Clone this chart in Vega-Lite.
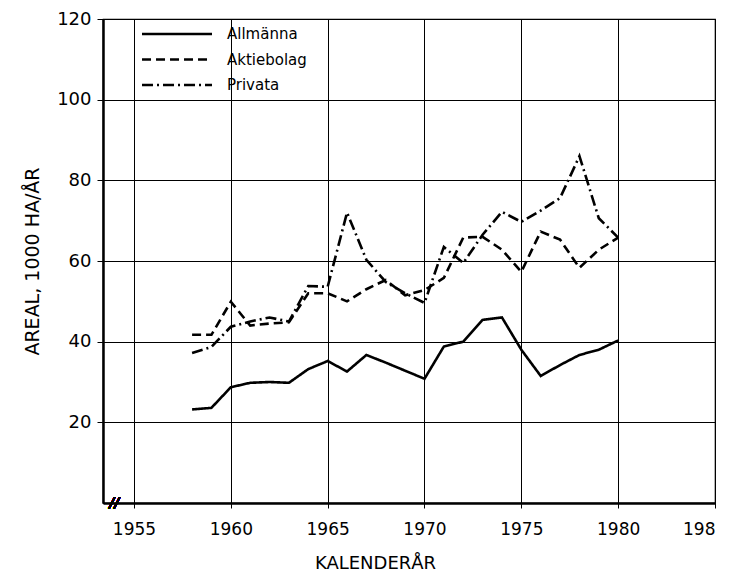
{
  "$schema": "https://vega.github.io/schema/vega-lite/v6.json",
  "width": 612,
  "height": 484,
  "autosize": {"type": "none"},
  "padding": {"left": 103, "top": 19, "right": 16, "bottom": 74},
  "background": "white",
  "config": {
    "font": "DejaVu Sans",
    "view": {"stroke": "black", "strokeWidth": 1.2},
    "axis": {
      "domainColor": "black",
      "domainWidth": 2.5,
      "gridColor": "black",
      "gridWidth": 1,
      "gridOpacity": 1,
      "tickColor": "black",
      "labelColor": "black",
      "titleColor": "black",
      "labelFont": "DejaVu Sans",
      "titleFont": "DejaVu Sans",
      "titleFontWeight": "normal",
      "labelFontSize": 17,
      "titleFontSize": 18
    }
  },
  "data": {
    "values": [
      {"year": 1958, "series": "Allmänna", "value": 23.2},
      {"year": 1959, "series": "Allmänna", "value": 23.6},
      {"year": 1960, "series": "Allmänna", "value": 28.7},
      {"year": 1961, "series": "Allmänna", "value": 29.8},
      {"year": 1962, "series": "Allmänna", "value": 30.0},
      {"year": 1963, "series": "Allmänna", "value": 29.8},
      {"year": 1964, "series": "Allmänna", "value": 33.2},
      {"year": 1965, "series": "Allmänna", "value": 35.2},
      {"year": 1966, "series": "Allmänna", "value": 32.6},
      {"year": 1967, "series": "Allmänna", "value": 36.7},
      {"year": 1968, "series": "Allmänna", "value": 34.8},
      {"year": 1969, "series": "Allmänna", "value": 32.8},
      {"year": 1970, "series": "Allmänna", "value": 30.8},
      {"year": 1971, "series": "Allmänna", "value": 38.8},
      {"year": 1972, "series": "Allmänna", "value": 40.0},
      {"year": 1973, "series": "Allmänna", "value": 45.4},
      {"year": 1974, "series": "Allmänna", "value": 46.0},
      {"year": 1975, "series": "Allmänna", "value": 38.0},
      {"year": 1976, "series": "Allmänna", "value": 31.5},
      {"year": 1977, "series": "Allmänna", "value": 34.2},
      {"year": 1978, "series": "Allmänna", "value": 36.7},
      {"year": 1979, "series": "Allmänna", "value": 38.0},
      {"year": 1980, "series": "Allmänna", "value": 40.3},
      {"year": 1958, "series": "Aktiebolag", "value": 41.7},
      {"year": 1959, "series": "Aktiebolag", "value": 41.7},
      {"year": 1960, "series": "Aktiebolag", "value": 49.9},
      {"year": 1961, "series": "Aktiebolag", "value": 44.0},
      {"year": 1962, "series": "Aktiebolag", "value": 44.5},
      {"year": 1963, "series": "Aktiebolag", "value": 44.8},
      {"year": 1964, "series": "Aktiebolag", "value": 52.0},
      {"year": 1965, "series": "Aktiebolag", "value": 52.0},
      {"year": 1966, "series": "Aktiebolag", "value": 50.0},
      {"year": 1967, "series": "Aktiebolag", "value": 53.0},
      {"year": 1968, "series": "Aktiebolag", "value": 55.3},
      {"year": 1969, "series": "Aktiebolag", "value": 51.5},
      {"year": 1970, "series": "Aktiebolag", "value": 52.8},
      {"year": 1971, "series": "Aktiebolag", "value": 55.8},
      {"year": 1972, "series": "Aktiebolag", "value": 65.8},
      {"year": 1973, "series": "Aktiebolag", "value": 66.0},
      {"year": 1974, "series": "Aktiebolag", "value": 62.8},
      {"year": 1975, "series": "Aktiebolag", "value": 57.3},
      {"year": 1976, "series": "Aktiebolag", "value": 67.3},
      {"year": 1977, "series": "Aktiebolag", "value": 65.3},
      {"year": 1978, "series": "Aktiebolag", "value": 58.3},
      {"year": 1979, "series": "Aktiebolag", "value": 62.8},
      {"year": 1980, "series": "Aktiebolag", "value": 65.8},
      {"year": 1958, "series": "Privata", "value": 37.2},
      {"year": 1959, "series": "Privata", "value": 38.7},
      {"year": 1960, "series": "Privata", "value": 43.7},
      {"year": 1961, "series": "Privata", "value": 45.0},
      {"year": 1962, "series": "Privata", "value": 46.0},
      {"year": 1963, "series": "Privata", "value": 45.0},
      {"year": 1964, "series": "Privata", "value": 53.8},
      {"year": 1965, "series": "Privata", "value": 53.6},
      {"year": 1966, "series": "Privata", "value": 72.0},
      {"year": 1967, "series": "Privata", "value": 60.3},
      {"year": 1968, "series": "Privata", "value": 54.8},
      {"year": 1969, "series": "Privata", "value": 52.0},
      {"year": 1970, "series": "Privata", "value": 49.6},
      {"year": 1971, "series": "Privata", "value": 63.5},
      {"year": 1972, "series": "Privata", "value": 59.5},
      {"year": 1973, "series": "Privata", "value": 66.5},
      {"year": 1974, "series": "Privata", "value": 72.2},
      {"year": 1975, "series": "Privata", "value": 69.7},
      {"year": 1976, "series": "Privata", "value": 72.5},
      {"year": 1977, "series": "Privata", "value": 75.6},
      {"year": 1978, "series": "Privata", "value": 86.0},
      {"year": 1979, "series": "Privata", "value": 70.6},
      {"year": 1980, "series": "Privata", "value": 65.8}
    ]
  },
  "layer": [
    {
      "mark": {"type": "line", "color": "black", "strokeWidth": 2.6},
      "encoding": {
        "x": {
          "field": "year",
          "type": "quantitative",
          "scale": {"domain": [1953.4, 1985], "nice": false, "zero": false},
          "axis": {
            "values": [1955, 1960, 1965, 1970, 1975, 1980, 1985],
            "labelExpr": "datum.value == 1985 ? '198' : datum.value",
            "title": "KALENDERÅR",
            "tickSize": 5,
            "labelPadding": 13,
            "titlePadding": 17,
            "titleX": 272,
            "titleAlign": "center"
          }
        },
        "y": {
          "field": "value",
          "type": "quantitative",
          "scale": {"domain": [0, 120], "nice": false},
          "axis": {
            "values": [20, 40, 60, 80, 100, 120],
            "title": "AREAL, 1000 HA/ÅR",
            "labelFontSize": 18,
            "tickSize": 6,
            "labelPadding": 6,
            "titlePadding": 14,
            "titleFontSize": 19
          }
        },
        "strokeDash": {
          "field": "series",
          "type": "nominal",
          "scale": {
            "domain": ["Allmänna", "Aktiebolag", "Privata"],
            "range": [[1, 0], [9, 5], [11, 4, 2, 4]]
          },
          "legend": {
            "title": null,
            "orient": "none",
            "legendX": 61,
            "legendY": 2,
            "symbolType": "M-3,0H3",
            "symbolSize": 544,
            "symbolStrokeWidth": 2.5,
            "symbolStrokeColor": "black",
            "symbolFillColor": "transparent",
            "labelFontSize": 15,
            "labelColor": "black",
            "labelFont": "DejaVu Sans",
            "labelOffset": 37,
            "rowPadding": 4.5
          }
        }
      }
    },
    {
      "mark": {"type": "text", "text": "//", "fontSize": 14, "fontWeight": "bold", "fontStyle": "italic", "color": "black", "baseline": "middle", "align": "center"},
      "encoding": {
        "x": {"datum": 1954.0, "type": "quantitative"},
        "y": {"datum": 0, "type": "quantitative"}
      }
    }
  ]
}
